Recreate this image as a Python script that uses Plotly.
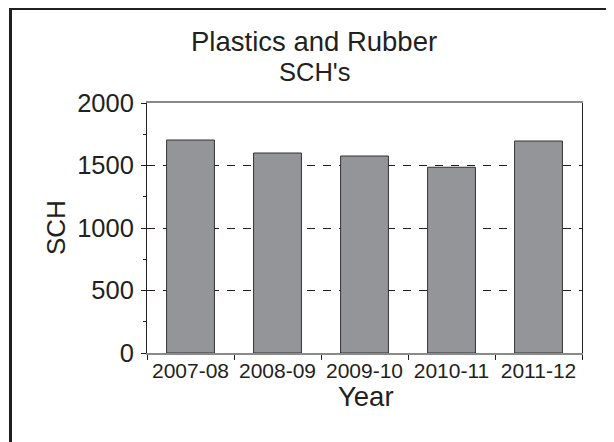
import plotly.graph_objects as go

years = ["2007-08", "2008-09", "2009-10", "2010-11", "2011-12"]
sch = [1704, 1600, 1576, 1486, 1696]
y_ticks = [0, 500, 1000, 1500, 2000]

FONT = "Liberation Sans, Arial, sans-serif"
TXT = "#231f20"

W, H = 614, 442
OFF = 8  # page body margin offset
# desired plot-area edges in screenshot pixels
X0, X1, Y0, Y1 = 147, 582, 103, 353
L, T = X0 - OFF, Y0 - OFF
R, B = W - (X1 - OFF), H - (Y1 - OFF)
pw, ph = X1 - X0, Y1 - Y0

def px(x):
    return (x - X0) / pw

def py(y):
    return (Y1 - y) / ph

fig = go.Figure()
fig.add_trace(go.Bar(
    x=years, y=sch, width=0.55,
    marker=dict(color="#939598", line=dict(color="#333333", width=1)),
))

fig.update_layout(
    width=W, height=H,
    margin=dict(l=L, r=R, t=T, b=B, pad=0),
    paper_bgcolor="white", plot_bgcolor="white",
    showlegend=False,
    font=dict(family=FONT, color=TXT),
    bargap=0.45,
)
fig.update_xaxes(
    type="category", categoryarray=years, range=[-0.5, 4.5],
    showline=True, linecolor="#8a8a8a", linewidth=1.5, mirror=True,
    ticks="outside", tickson="boundaries", ticklen=5, tickcolor="#231f20", tickwidth=1,
    tickfont=dict(size=21, family=FONT, color=TXT),
    ticklabelstandoff=-2,
    showgrid=False, zeroline=False,
)
fig.update_yaxes(
    range=[0, 2000], tickvals=y_ticks,
    showline=True, linecolor="#231f20", linewidth=1, mirror=True,
    ticks="outside", ticklen=5, tickcolor="#231f20",
    minor=dict(dtick=250, ticks="outside", ticklen=3, tickcolor="#231f20", showgrid=False),
    tickfont=dict(size=25.5, family=FONT, color=TXT),
    ticklabelstandoff=2,
    showgrid=True, gridcolor="#231f20", gridwidth=1, griddash="8px,8px",
    zeroline=False,
)

annotations = [
    dict(text="Plastics and Rubber", x=px(314), y=py(41), font=dict(size=27.5)),
    dict(text="SCH's", x=px(314), y=py(71.5), font=dict(size=25.5)),
    dict(text="SCH", x=px(56), y=0.5, textangle=-90, font=dict(size=26)),
    dict(text="Year", x=px(365.5), y=py(396), font=dict(size=27.5)),
]
for a in annotations:
    a.update(xref="paper", yref="paper", showarrow=False, xanchor="center", yanchor="middle")
    a["font"].update(family=FONT, color=TXT)
fig.update_layout(annotations=annotations)

# outer frame (cropped at right and bottom)
fig.add_shape(type="line", xref="paper", yref="paper",
              x0=px(10.5), x1=px(10.5), y0=py(8.5), y1=py(470),
              line=dict(color="#231f20", width=3))
fig.add_shape(type="line", xref="paper", yref="paper",
              x0=px(9), x1=px(650), y0=py(8.5), y1=py(8.5),
              line=dict(color="#231f20", width=3))

fig.write_html("out.html")
